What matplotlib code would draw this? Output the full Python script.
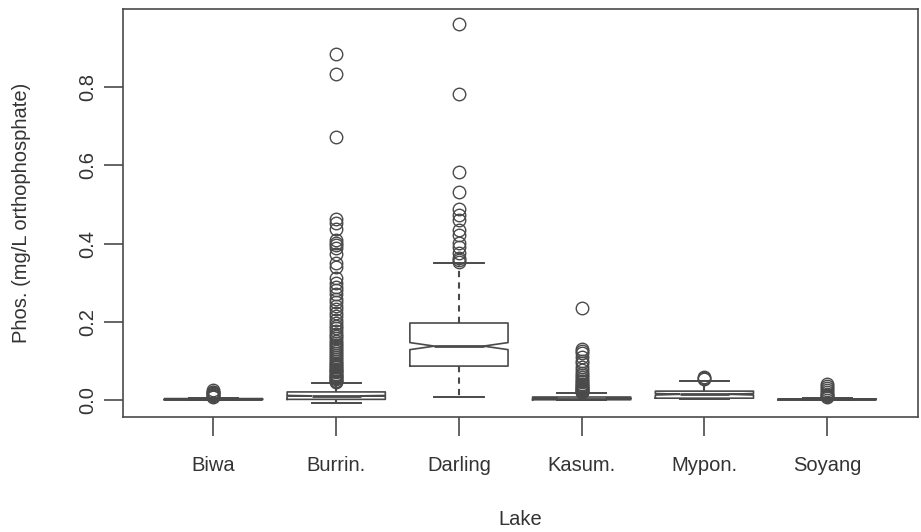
import matplotlib
matplotlib.use("Agg")
import matplotlib.pyplot as plt

plt.rcParams['font.family'] = ['Liberation Sans', 'DejaVu Sans']

lakes = ['Biwa', 'Burrin.', 'Darling', 'Kasum.', 'Mypon.', 'Soyang']

# five-number summaries per lake (mg/L)
whis_lo = [0.000, -0.007, 0.008, 0.000, 0.003, 0.000]
q1 = [0.001, 0.002, 0.087, 0.001, 0.005, 0.001]
med = [0.002, 0.011, 0.138, 0.004, 0.015, 0.002]
q3 = [0.004, 0.021, 0.197, 0.008, 0.023, 0.003]
whis_hi = [0.006, 0.044, 0.350, 0.018, 0.050, 0.006]
# notch limits around the median
ci_lo = [0.0015, 0.010, 0.129, 0.0035, 0.013, 0.0015]
ci_hi = [0.0025, 0.012, 0.147, 0.0045, 0.017, 0.0025]

out_biwa = [0.008, 0.010, 0.012, 0.015, 0.018, 0.020, 0.022, 0.025]
out_burrin = [0.884, 0.832, 0.671, 0.462, 0.452, 0.436, 0.410, 0.402, 0.395,
              0.388, 0.372, 0.350, 0.340, 0.312, 0.300, 0.290, 0.282, 0.270,
              0.258, 0.250, 0.240, 0.232, 0.222, 0.215, 0.205, 0.198, 0.190,
              0.183, 0.176, 0.170, 0.164, 0.158, 0.152, 0.146, 0.140, 0.135,
              0.130, 0.125, 0.120, 0.115, 0.110, 0.105, 0.100, 0.096, 0.092,
              0.088, 0.084, 0.080, 0.077, 0.074, 0.071, 0.068, 0.065, 0.062,
              0.059, 0.056, 0.053, 0.050, 0.048, 0.046]
out_darling = [0.961, 0.782, 0.583, 0.532, 0.488, 0.473, 0.460, 0.435, 0.422,
               0.401, 0.391, 0.376, 0.363, 0.357, 0.353]
out_kasum = [0.235, 0.130, 0.126, 0.120, 0.110, 0.100, 0.095, 0.085, 0.078,
             0.070, 0.065, 0.060, 0.055, 0.050, 0.046, 0.042, 0.038, 0.035,
             0.032, 0.030, 0.028, 0.026, 0.024, 0.022, 0.020]
out_mypon = [0.060, 0.057, 0.055]
out_soyang = [0.042, 0.036, 0.030, 0.025, 0.020, 0.016, 0.012, 0.010, 0.008]
outliers = [out_biwa, out_burrin, out_darling, out_kasum, out_mypon, out_soyang]

ink = '#4a4a4a'

stats = []
for i, name in enumerate(lakes):
    stats.append(dict(label=name, whislo=whis_lo[i], q1=q1[i], med=med[i],
                      q3=q3[i], whishi=whis_hi[i], cilo=ci_lo[i],
                      cihi=ci_hi[i], fliers=outliers[i]))

fig = plt.figure(figsize=(9.21, 5.32), dpi=100)
ax = fig.add_axes([0.1332, 0.2162, 0.8635, 0.7669])

ax.bxp(stats, positions=range(1, 7), widths=0.8, shownotches=True,
       boxprops=dict(color=ink, linewidth=1.2),
       whiskerprops=dict(color=ink, linewidth=1.5, linestyle=(0, (3, 2.5))),
       capprops=dict(color=ink, linewidth=1.4),
       medianprops=dict(color=ink, linewidth=2.0),
       flierprops=dict(marker='o', markerfacecolor='none',
                       markeredgecolor=ink, markersize=9,
                       markeredgewidth=1.0))

ax.set_xlim(0.26, 6.74)
ax.set_ylim(-0.043, 0.999)

ax.set_yticks([0.0, 0.2, 0.4, 0.6, 0.8])
ax.set_yticklabels(['0.0', '0.2', '0.4', '0.6', '0.8'], rotation=90,
                   va='center')
ax.set_xticks(range(1, 7))
ax.set_xticklabels(lakes)

ax.tick_params(axis='both', direction='out', length=14, width=1.2,
               color=ink, labelcolor='#333333', labelsize=14.5)
ax.tick_params(axis='x', pad=14)
ax.tick_params(axis='y', pad=4)

for side in ax.spines.values():
    side.set_color(ink)
    side.set_linewidth(1.2)

ax.set_xlabel('Lake', fontsize=14.5, color='#333333', labelpad=25)
ax.set_ylabel('Phos. (mg/L orthophosphate)', fontsize=14.5,
              color='#333333', labelpad=34)

fig.savefig('out.png', dpi=100)
